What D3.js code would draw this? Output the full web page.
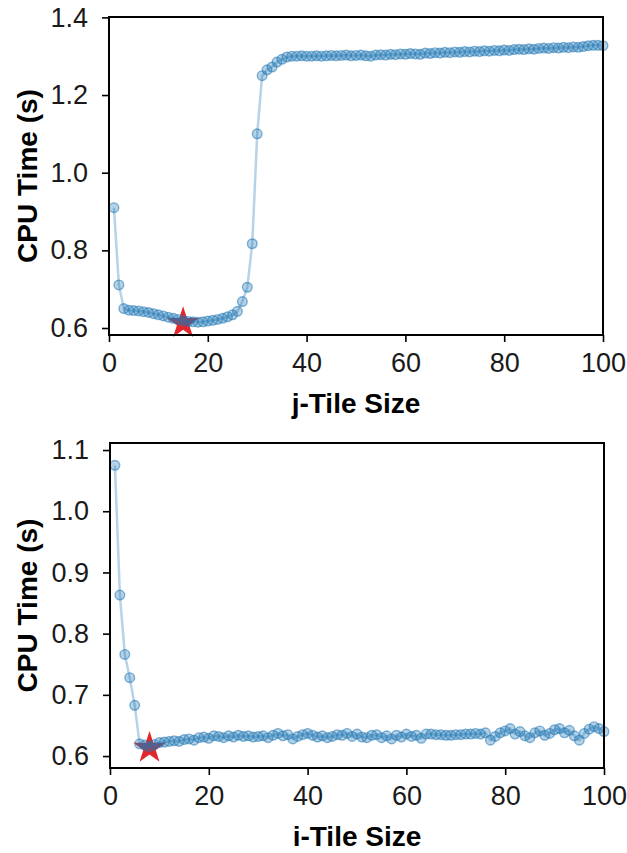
<!DOCTYPE html>
<html>
<head>
<meta charset="utf-8">
<script src="https://cdn.jsdelivr.net/npm/d3@7"></script>
<style>
  body { margin: 0; background: #fff; }
  svg { display: block; font-family: "Liberation Sans", Arial, sans-serif; }
</style>
</head>
<body>
<svg id="chart" width="627" height="853"></svg>
<script>
// j-tile sweep (top panel), tile sizes 1..100
const jTileSizes = d3.range(1, 101);
const jTileTimes = [
  0.910, 0.711, 0.650, 0.646, 0.645, 0.644, 0.642, 0.640, 0.637, 0.634,
  0.631, 0.628, 0.625, 0.622, 0.619, 0.617, 0.616, 0.615, 0.616, 0.618,
  0.620, 0.622, 0.625, 0.629, 0.634, 0.643, 0.668, 0.705, 0.817, 1.100,
  1.250, 1.265, 1.272, 1.285, 1.292, 1.298, 1.300, 1.300, 1.301, 1.300,
  1.300, 1.301, 1.300, 1.301, 1.302, 1.301, 1.302, 1.303, 1.301, 1.302,
  1.303, 1.301, 1.300, 1.303, 1.304, 1.303, 1.305, 1.304, 1.306, 1.305,
  1.307, 1.306, 1.305, 1.308, 1.307, 1.309, 1.308, 1.310, 1.309, 1.311,
  1.310, 1.312, 1.311, 1.313, 1.312, 1.314, 1.313, 1.315, 1.314, 1.316,
  1.315, 1.317, 1.318, 1.317, 1.319, 1.318, 1.320, 1.321, 1.320, 1.322,
  1.321, 1.323, 1.322, 1.324, 1.323, 1.325, 1.327, 1.328, 1.328, 1.327
];
const jBest = [15, 0.612];
const jTicksY = [0.6, 0.8, 1.0, 1.2, 1.4];

// i-tile sweep (bottom panel)
const iTileSizes = d3.range(1, 101);
const iTileTimes = [
  1.075, 0.863, 0.766, 0.728, 0.683, 0.620, 0.618, 0.615, 0.619, 0.622,
  0.623, 0.624, 0.625, 0.624, 0.627, 0.628, 0.626, 0.630, 0.631, 0.629,
  0.633, 0.632, 0.630, 0.633, 0.631, 0.634, 0.632, 0.633, 0.631, 0.632,
  0.633, 0.630, 0.634, 0.637, 0.633, 0.635, 0.628, 0.632, 0.635, 0.637,
  0.634, 0.631, 0.633, 0.630, 0.632, 0.635, 0.634, 0.637, 0.632, 0.636,
  0.631, 0.630, 0.634, 0.635, 0.630, 0.633, 0.628, 0.634, 0.631, 0.636,
  0.632, 0.634, 0.629, 0.636, 0.636, 0.635, 0.635, 0.634, 0.634, 0.635,
  0.635, 0.636, 0.636, 0.637, 0.636, 0.638, 0.626, 0.632, 0.638, 0.641,
  0.645, 0.636, 0.640, 0.633, 0.630, 0.638, 0.641, 0.634, 0.637, 0.643,
  0.645, 0.638, 0.642, 0.633, 0.626, 0.637, 0.644, 0.648, 0.645, 0.640
];
const iBest = [8, 0.613];
const iTicksY = [0.6, 0.7, 0.8, 0.9, 1.0, 1.1];

const xTicks = [0, 20, 40, 60, 80, 100];

const blue = "#1f77b4";
const starRed = "#e3262b";

const svg = d3.select("#chart");

// five pointed star, outer radius R
function starPath(R) {
  const pts = d3.range(10).map(k => {
    const r = k % 2 ? R * 0.382 : R;
    const a = k * Math.PI / 5;
    return [r * Math.sin(a), -r * Math.cos(a)];
  });
  return "M" + pts.join("L") + "Z";
}

function drawPanel(opts) {
  const g = svg.append("g");
  const x = d3.scaleLinear().domain([0, 100]).range([opts.left, opts.right]);
  const y = d3.scaleLinear().domain(opts.yDomain).range([opts.bottom, opts.top]);

  const data = opts.sizes.map((s, i) => [s, opts.times[i]]);

  // best tile marker (sits under the points)
  g.append("path")
    .attr("d", starPath(17))
    .attr("transform", "translate(" + x(opts.best[0]) + "," + y(opts.best[1]) + ")")
    .attr("fill", starRed);

  const line = d3.line()
    .x(d => x(d[0]))
    .y(d => y(d[1]));

  g.append("path")
    .datum(data)
    .attr("d", line)
    .attr("fill", "none")
    .attr("stroke", blue)
    .attr("stroke-opacity", 0.32)
    .attr("stroke-width", 2.5);

  g.selectAll(".dot")
    .data(data)
    .enter().append("circle")
    .attr("class", "dot")
    .attr("cx", d => x(d[0]))
    .attr("cy", d => y(d[1]))
    .attr("r", 4.8)
    .attr("fill", blue)
    .attr("fill-opacity", 0.33)
    .attr("stroke", blue)
    .attr("stroke-opacity", 0.55)
    .attr("stroke-width", 1.4);

  // axes
  const xAxis = g.append("g")
    .attr("transform", "translate(0," + opts.bottom + ")")
    .call(d3.axisBottom(x).tickValues(xTicks).tickSize(7).tickPadding(11).tickFormat(d3.format("d")));
  const yAxis = g.append("g")
    .attr("transform", "translate(" + opts.left + ",0)")
    .call(d3.axisLeft(y).tickValues(opts.yTicks).tickSize(7).tickPadding(14).tickFormat(d3.format(".1f")));

  [xAxis, yAxis].forEach(a => {
    a.select(".domain").remove();
    a.selectAll(".tick line").attr("stroke", "#000").attr("stroke-width", 1.6);
    a.selectAll(".tick text").attr("fill", "#1a1a1a").style("font-size", "27px");
  });

  // frame
  g.append("rect")
    .attr("x", opts.left)
    .attr("y", opts.top)
    .attr("width", opts.right - opts.left)
    .attr("height", opts.bottom - opts.top)
    .attr("fill", "none")
    .attr("stroke", "#000")
    .attr("stroke-width", 2);

  g.append("text")
    .attr("x", (opts.left + opts.right) / 2)
    .attr("y", opts.bottom + 78)
    .attr("text-anchor", "middle")
    .style("font-size", "28px")
    .style("font-weight", "bold")
    .text(opts.xLabel);

  g.append("text")
    .attr("transform", "translate(37," + (opts.top + opts.bottom) / 2 + ") rotate(-90)")
    .attr("text-anchor", "middle")
    .style("font-size", "28px")
    .style("font-weight", "bold")
    .text("CPU Time (s)");
}

drawPanel({
  sizes: jTileSizes, times: jTileTimes, best: jBest, yTicks: jTicksY,
  yDomain: [0.582, 1.401], left: 109, right: 603, top: 17, bottom: 335,
  xLabel: "j-Tile Size"
});

drawPanel({
  sizes: iTileSizes, times: iTileTimes, best: iBest, yTicks: iTicksY,
  yDomain: [0.5805, 1.1115], left: 110, right: 604, top: 443, bottom: 768,
  xLabel: "i-Tile Size"
});
</script>
</body>
</html>
